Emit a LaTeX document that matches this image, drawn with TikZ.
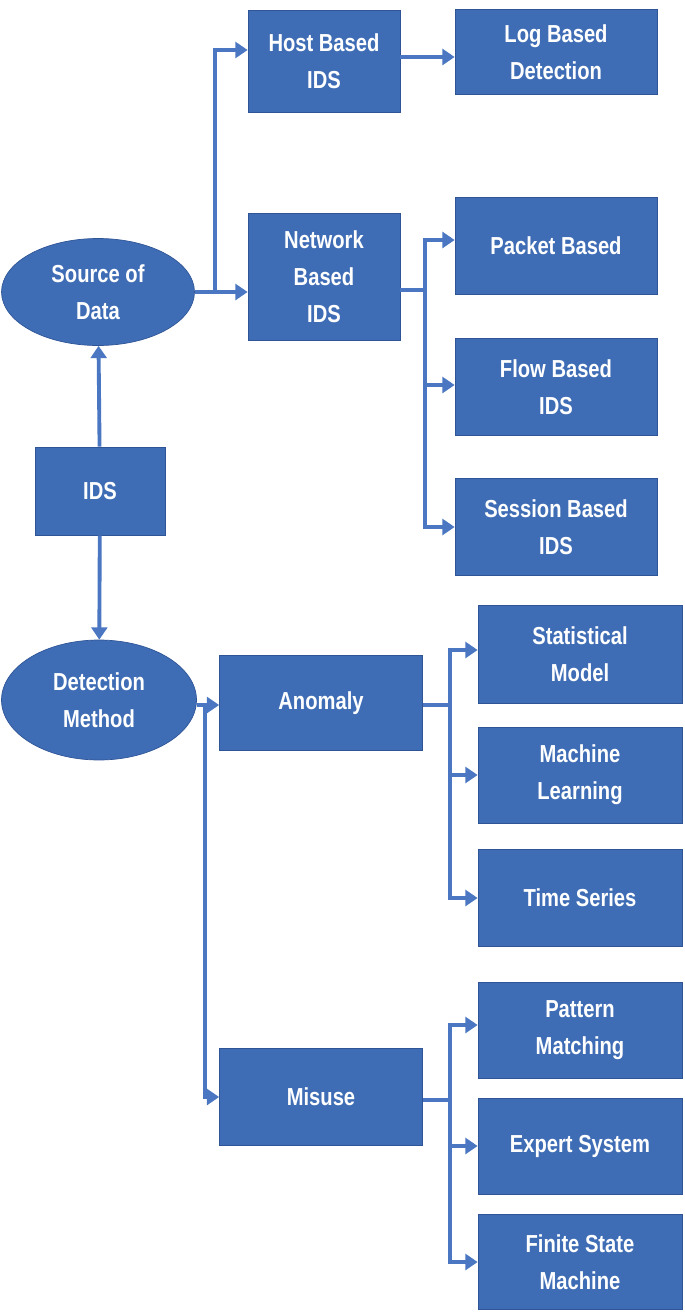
\documentclass[tikz,border=0pt]{standalone}
\usepackage{fontspec}
\setmainfont[FakeStretch=0.82]{Liberation Sans}
\usetikzlibrary{shapes.geometric,arrows.meta}
\definecolor{boxblue}{HTML}{3F6DB5}
\definecolor{edgeblue}{HTML}{2F5597}
\definecolor{lineblue}{HTML}{4A76C2}
\begin{document}
\begin{tikzpicture}[x=0.02cm,y=-0.02cm,
    box/.style={rectangle,draw=edgeblue,fill=boxblue,text=white,align=center,
      font=\fontsize{14}{21}\selectfont\bfseries,inner sep=0pt},
    oval/.style={ellipse,draw=edgeblue,fill=boxblue,text=white,align=center,
      font=\fontsize{14}{21}\selectfont\bfseries,inner sep=0pt},
    link/.style={draw=lineblue,line width=2.2pt},
    arr/.style={link,-{Triangle[length=7pt,width=9pt]}}]

  \useasboundingbox (0,0) rectangle (685,1315);

  % nodes
  \node[box,minimum width=3.04cm,minimum height=2.04cm] (host) at (324,61) {Host Based\\IDS};
  \node[box,minimum width=4.04cm,minimum height=1.7cm] (log) at (556,52) {Log Based\\Detection};
  \node[oval,minimum width=3.86cm,minimum height=2.14cm] (src) at (98,292) {Source of\\Data};
  \node[box,minimum width=3.04cm,minimum height=2.54cm] (net) at (324,277) {Network\\Based\\IDS};
  \node[box,minimum width=4.04cm,minimum height=1.94cm] (pkt) at (556,246) {Packet Based};
  \node[box,minimum width=4.04cm,minimum height=1.94cm] (flow) at (556,387) {Flow Based\\IDS};
  \node[box,minimum width=4.04cm,minimum height=1.94cm] (sess) at (556,527) {Session Based\\IDS};
  \node[box,minimum width=2.6cm,minimum height=1.76cm] (ids) at (100,491) {IDS};
  \node[oval,minimum width=3.9cm,minimum height=2.4cm] (det) at (99,700) {Detection\\Method};
  \node[box,minimum width=4.06cm,minimum height=1.9cm] (anom) at (321,703) {Anomaly};
  \node[box,minimum width=4.08cm,minimum height=1.96cm] (stat) at (580,654) {Statistical\\Model};
  \node[box,minimum width=4.08cm,minimum height=1.92cm] (ml) at (580,775) {Machine\\Learning};
  \node[box,minimum width=4.08cm,minimum height=1.94cm] (ts) at (580,898) {Time Series};
  \node[box,minimum width=4.06cm,minimum height=1.94cm] (mis) at (321,1097) {Misuse};
  \node[box,minimum width=4.08cm,minimum height=1.92cm] (pat) at (580,1030) {Pattern\\Matching};
  \node[box,minimum width=4.08cm,minimum height=1.92cm] (exp) at (580,1146) {Expert System};
  \node[box,minimum width=4.08cm,minimum height=1.9cm] (fsm) at (580,1262) {Finite State\\Machine};

  % junctions
  \coordinate (j1) at (215,292);
  \coordinate (j2) at (425,290);
  \coordinate (j3) at (205,705);
  \coordinate (j4) at (450,705);
  \coordinate (j5) at (450,1100);

  % connectors
  \draw[arr] (ids) -- (src);
  \draw[arr] (ids) -- (det);
  \draw[link] (src.east) -- (j1);
  \draw[arr] (j1) |- (host.west |- 0,50);
  \draw[arr] (j1) -- (net.west |- j1);
  \draw[arr] (host.east |- 0,57) -- (log.west |- 0,57);
  \draw[link] (net.east |- j2) -- (j2);
  \draw[arr] (j2) |- (pkt.west |- 0,240);
  \draw[arr] (j2) |- (flow.west |- 0,385);
  \draw[arr] (j2) |- (sess.west |- 0,527);
  \draw[link] (det.east |- j3) -- (j3);
  \draw[arr] (j3) -- (anom.west |- j3);
  \draw[arr] (j3) |- (mis);
  \draw[link] (anom.east |- j4) -- (j4);
  \draw[arr] (j4) |- (stat.west |- 0,650);
  \draw[arr] (j4) |- (ml);
  \draw[arr] (j4) |- (ts);
  \draw[link] (mis.east |- j5) -- (j5);
  \draw[arr] (j5) |- (pat.west |- 0,1025);
  \draw[arr] (j5) |- (exp);
  \draw[arr] (j5) |- (fsm);
\end{tikzpicture}
\end{document}
